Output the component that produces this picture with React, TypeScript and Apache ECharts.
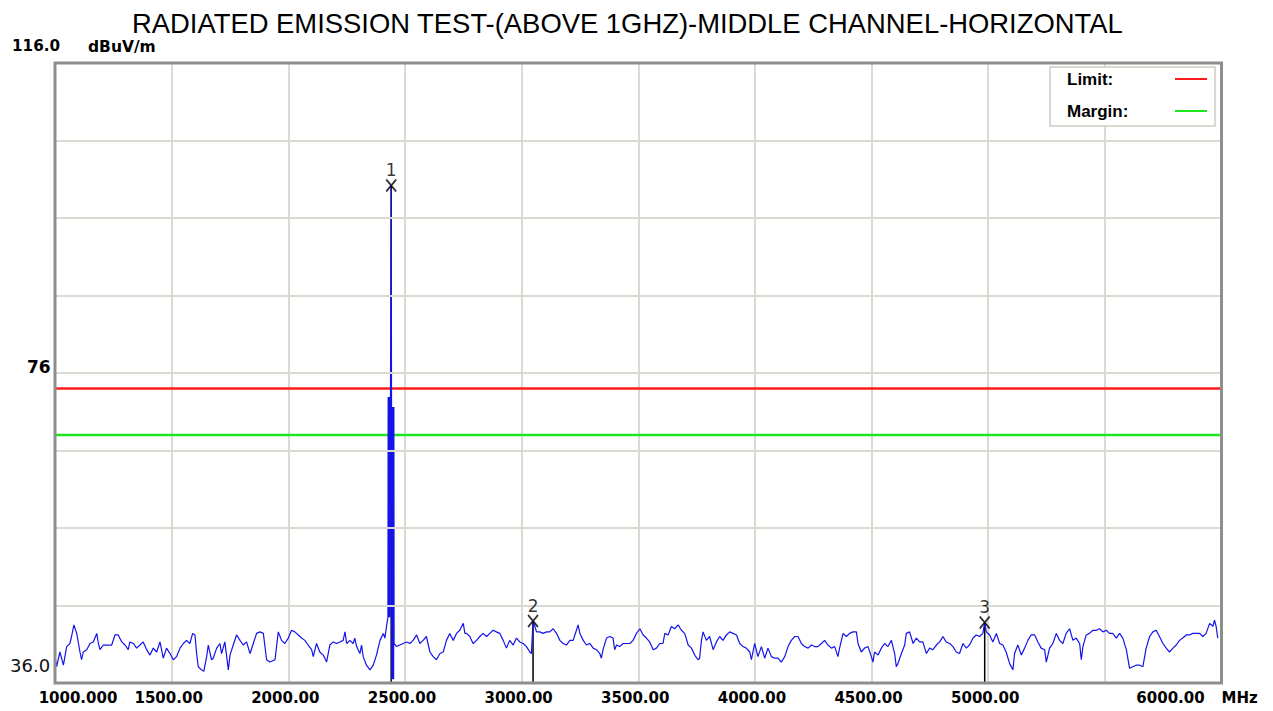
import React, { useEffect, useRef } from 'react';
import * as echarts from 'echarts';

const TITLE = 'RADIATED EMISSION TEST-(ABOVE 1GHZ)-MIDDLE CHANNEL-HORIZONTAL';
const X_UNIT = 'MHz';
const Y_UNIT = 'dBuV/m';

const xTickValues = [1000, 1500, 2000, 2500, 3000, 3500, 4000, 4500, 5000, 6000];
const xTickLabels = ['1000.000', '1500.00', '2000.00', '2500.00', '3000.00', '3500.00', '4000.00', '4500.00', '5000.00', '6000.00'];
const yTickValues = [36, 76, 116];
const yTickLabels = ['36.0', '76', '116.0'];
const yGridValues = [46, 56, 66, 76, 86, 96, 106];

const LIMIT_LEVEL = 74;
const MARGIN_LEVEL = 68;

const markerNames = ['1', '2', '3'];
const markerFreq = [2441, 3049, 4985];
const markerLevel = [100.2, 44.0, 43.8];

// measured trace: [frequency MHz, level dBuV/m]
const band1: [number, number][] = [
  [1000, 39.4], [1007, 38.1], [1021, 40.0], [1036, 38.3], [1050, 40.7], [1064, 41.1], [1071, 42.0], [1081, 43.5], [1093, 42.4],
  [1107, 40.0], [1114, 39.0], [1121, 40.0], [1136, 40.3], [1150, 41.1], [1164, 41.3], [1179, 42.4], [1186, 41.1], [1193, 40.3],
  [1207, 40.9], [1221, 40.9], [1243, 40.9], [1257, 42.2], [1271, 42.2], [1286, 41.3], [1300, 40.9], [1314, 40.3], [1321, 41.3],
  [1336, 41.1], [1350, 40.5], [1364, 40.9], [1378, 41.3], [1393, 40.3], [1407, 39.6], [1421, 40.5], [1436, 40.0], [1450, 41.3],
  [1464, 39.2], [1478, 40.5], [1493, 39.8], [1507, 39.0], [1521, 39.4], [1536, 40.5], [1550, 41.1], [1564, 41.5], [1578, 41.1],
  [1590, 42.4], [1600, 42.2], [1607, 39.8], [1614, 38.1], [1628, 37.7], [1638, 37.5], [1650, 39.4], [1657, 40.9], [1671, 39.0],
  [1678, 39.2], [1693, 40.5], [1707, 41.1], [1714, 39.8], [1728, 41.3], [1743, 37.7], [1750, 39.6], [1764, 40.9], [1778, 42.2],
  [1793, 41.5], [1807, 40.9], [1821, 41.3], [1836, 39.8], [1850, 41.1], [1864, 42.4], [1878, 42.6], [1893, 42.4], [1907, 39.0],
  [1921, 38.7], [1943, 39.0], [1957, 42.6], [1971, 41.5], [1985, 41.1], [2000, 41.8], [2014, 42.8], [2028, 42.6], [2043, 42.2],
  [2057, 41.8], [2071, 41.5], [2085, 40.9], [2100, 40.3], [2107, 39.4], [2121, 41.1], [2135, 40.0], [2150, 39.6], [2164, 38.7],
  [2178, 40.9], [2193, 41.3], [2207, 41.1], [2221, 41.3], [2235, 41.5], [2243, 42.6], [2250, 41.1], [2264, 41.5], [2278, 41.1],
  [2285, 41.8], [2293, 40.7], [2307, 39.8], [2314, 40.9], [2321, 39.4], [2335, 38.3], [2350, 37.7], [2364, 38.3], [2378, 39.6],
  [2393, 41.5], [2407, 42.4], [2414, 41.8], [2421, 43.3], [2427, 44.5],
];

const carrier: [number, number][] = [
  [2428, 72.9], [2429, 44.5], [2430, 72.9], [2431, 44.5], [2432, 72.9], [2433, 44.5], [2434, 72.9], [2435, 44.5],
  [2436, 72.9], [2437, 44.5], [2438, 72.9], [2439.5, 72.9], [2441, 100.2], [2442.5, 71.6], [2443.5, 36.5], [2444.5, 71.6],
  [2445.5, 36.5], [2446.5, 71.6], [2447.5, 36.5], [2448.5, 71.6], [2449.5, 36.5], [2450.5, 71.6], [2451.5, 36.5],
  [2452.5, 71.6],
];

const band2: [number, number][] = [
  [2453.5, 41.1], [2464, 40.7], [2478, 40.9], [2492, 41.1], [2507, 41.3], [2521, 41.1], [2535, 41.5], [2550, 42.2], [2564, 41.1],
  [2578, 41.5], [2592, 42.0], [2607, 40.0], [2621, 39.4], [2635, 39.0], [2650, 39.8], [2664, 40.0], [2678, 41.5], [2692, 42.4],
  [2707, 41.5], [2721, 42.4], [2735, 42.8], [2750, 43.7], [2757, 42.4], [2764, 42.4], [2778, 42.0], [2792, 41.1], [2807, 41.5],
  [2821, 42.0], [2835, 42.4], [2850, 42.0], [2864, 42.4], [2878, 42.8], [2892, 42.6], [2907, 42.4], [2921, 41.5], [2935, 40.5],
  [2949, 41.5], [2964, 40.9], [2978, 41.8], [2992, 41.3], [3007, 41.1], [3021, 40.7], [3035, 40.0], [3042, 39.8], [3049, 44.0],
  [3057, 43.3], [3064, 42.6], [3078, 42.6], [3092, 42.4], [3107, 42.6], [3121, 42.6], [3135, 43.0], [3150, 42.4], [3164, 41.5],
  [3178, 41.1], [3192, 40.9], [3207, 41.5], [3221, 41.5], [3235, 42.8], [3242, 43.5], [3250, 42.4], [3264, 41.5], [3278, 40.9],
  [3292, 41.1], [3307, 40.5], [3321, 40.3], [3335, 39.8], [3342, 39.2], [3349, 40.3], [3364, 41.8], [3378, 42.0], [3392, 41.8],
  [3399, 40.3], [3407, 40.9], [3421, 40.7], [3435, 41.1], [3449, 41.1], [3464, 41.1], [3478, 41.5], [3492, 42.4], [3507, 43.0],
  [3521, 42.2], [3535, 41.8], [3549, 41.3],
];

const band3: [number, number][] = [
  [3564, 40.3], [3578, 40.5], [3592, 41.1], [3606, 41.1], [3614, 42.4], [3628, 42.2], [3642, 43.3], [3656, 43.0], [3671, 43.5],
  [3685, 42.8], [3699, 42.4], [3714, 40.9], [3728, 40.5], [3742, 39.6], [3756, 39.0], [3763, 39.2], [3771, 41.5], [3778, 42.6],
  [3792, 41.5], [3806, 42.0], [3821, 40.3], [3835, 41.3], [3849, 42.0], [3863, 41.5], [3878, 42.2], [3892, 42.6], [3906, 42.4],
  [3921, 42.2], [3935, 41.1], [3949, 40.7], [3963, 40.5], [3978, 40.0], [3985, 39.0], [3999, 41.1], [4013, 39.4], [4028, 40.7],
  [4042, 39.2], [4056, 40.5], [4071, 39.4], [4085, 39.2], [4099, 39.2], [4113, 38.7], [4128, 39.4], [4142, 40.7], [4156, 41.5],
  [4171, 42.0], [4185, 42.0], [4199, 41.1], [4213, 40.7], [4228, 40.5], [4242, 40.9], [4256, 40.7], [4270, 40.7], [4285, 41.1],
  [4299, 41.5], [4313, 40.9], [4328, 40.5], [4342, 40.7], [4356, 39.4], [4363, 40.5], [4378, 42.4], [4392, 42.0], [4406, 42.4],
  [4420, 42.6], [4435, 42.6], [4442, 41.1], [4456, 40.0], [4470, 40.5], [4485, 40.7], [4499, 39.4], [4506, 38.7], [4513, 40.0],
  [4528, 39.6], [4542, 40.5], [4556, 41.1], [4570, 40.7], [4585, 41.5], [4599, 39.8], [4606, 38.1], [4613, 38.5], [4628, 39.8],
  [4642, 40.9], [4649, 42.4], [4663, 42.6], [4678, 41.1], [4692, 41.8], [4706, 41.3], [4720, 41.3], [4735, 39.8], [4749, 40.5],
  [4763, 40.3], [4778, 40.9], [4792, 41.3], [4806, 42.0], [4820, 41.3], [4835, 41.1], [4849, 40.7], [4863, 40.0], [4877, 39.8],
  [4892, 41.1], [4906, 40.5], [4920, 40.9],
];

const band4: [number, number][] = [
  [4935, 41.8], [4949, 42.2], [4963, 42.0], [4977, 42.4], [4985, 43.8], [4992, 42.6], [5006, 42.2], [5020, 41.3], [5035, 42.4],
  [5049, 41.1], [5063, 40.9], [5077, 40.0], [5092, 38.5], [5106, 37.7], [5113, 39.8], [5127, 40.9], [5142, 39.6], [5156, 40.5],
  [5170, 41.5], [5184, 42.2], [5199, 42.2], [5213, 41.3], [5227, 40.5], [5242, 40.3], [5249, 38.7], [5263, 40.5], [5277, 41.1],
  [5292, 42.4], [5306, 41.5], [5320, 41.1], [5334, 42.4], [5349, 43.0], [5363, 41.5], [5377, 41.8], [5392, 41.1], [5399, 39.0],
  [5406, 40.7], [5420, 42.2], [5434, 42.4], [5449, 42.8], [5463, 42.8], [5477, 43.0], [5492, 42.6], [5506, 42.8], [5520, 42.4],
  [5534, 42.4], [5549, 41.8], [5563, 42.4], [5577, 41.8], [5592, 40.3], [5606, 37.9], [5620, 38.1], [5634, 38.3], [5649, 38.3],
  [5663, 38.1], [5677, 40.5], [5692, 42.0], [5706, 42.6], [5720, 42.8], [5734, 42.0], [5749, 41.1], [5763, 40.5], [5777, 40.0],
  [5792, 40.5], [5806, 40.9], [5820, 41.5], [5834, 41.8], [5849, 42.2], [5863, 42.2], [5877, 42.4], [5891, 42.4], [5906, 42.4],
  [5920, 42.0], [5934, 42.4], [5949, 43.7], [5963, 43.3], [5970, 44.1], [5977, 43.3], [5984, 41.8],
];

const X_MIN = 1000;
const X_MAX = 6000;
const Y_MIN = 36;
const Y_MAX = 116;

export default function App() {
  const ref = useRef<HTMLDivElement>(null);

  useEffect(() => {
    if (!ref.current) return;
    const chart = echarts.init(ref.current, null, { renderer: 'svg' });
    const trace = [...band1, ...carrier, ...band2, ...band3, ...band4];

    const GRID = { left: 55, top: 63, right: 51.5, bottom: 28 };
    const plotW = 1273 - GRID.left - GRID.right;
    const plotH = 711 - GRID.top - GRID.bottom;

    const xFont = { fontFamily: 'DejaVu Sans', fontWeight: 'bold' as const, fontSize: 15, color: '#000' };

    const stemSeries = markerFreq.map((f, i) => ({
      type: 'line',
      name: 'stem' + i,
      data: [[f, markerLevel[i]], [f, Y_MIN]],
      symbol: 'none',
      lineStyle: { color: '#000', width: 1.5 },
      z: 3,
      silent: true,
    }));

    chart.setOption({
      animation: false,
      backgroundColor: '#fff',
      title: {
        text: TITLE,
        left: 132,
        top: 10,
        padding: 0,
        textStyle: { fontFamily: 'Liberation Sans', fontSize: 27.4, fontWeight: 'normal', color: '#000' },
      },
      legend: {
        data: ['Limit:', 'Margin:'],
        orient: 'vertical',
        right: 58,
        top: 67,
        align: 'right',
        icon: 'rect',
        itemWidth: 32,
        itemHeight: 2,
        itemGap: 12,
        padding: [2, 8, 5, 17],
        backgroundColor: '#fff',
        borderColor: '#cfcbc4',
        borderWidth: 1.5,
        selectedMode: false,
        formatter: (name: string) => '{t|' + name + '}',
        textStyle: {
          fontFamily: 'Liberation Sans',
          fontWeight: 'bold',
          fontSize: 17,
          color: '#000',
          rich: {
            t: { fontFamily: 'Liberation Sans', fontWeight: 'bold', fontSize: 17, color: '#000', width: 103, height: 20, align: 'left', lineHeight: 20 },
          },
        },
      },
      grid: { left: GRID.left, top: GRID.top, right: GRID.right, bottom: GRID.bottom, containLabel: false },
      xAxis: {
        type: 'value',
        min: X_MIN,
        max: X_MAX,
        interval: 500,
        axisLine: { show: false },
        axisTick: { show: false },
        splitLine: { show: true, lineStyle: { color: '#dcd8d2', width: 2 } },
        axisLabel: {
          customValues: xTickValues,
          margin: 7,
          formatter: (v: number) => {
            const i = xTickValues.indexOf(v);
            if (i < 0) return '';
            const key = i === 0 ? 'first' : i === xTickValues.length - 1 ? 'last' : 'mid';
            return '{' + key + '|' + xTickLabels[i] + '}';
          },
          rich: {
            first: { ...xFont, padding: [0, 0, 0, 46] },
            mid: { ...xFont, padding: [0, 6, 0, 0] },
            last: { ...xFont, padding: [0, 102, 0, 0] },
          },
        },
        name: X_UNIT,
        nameLocation: 'end',
        nameGap: 0,
        nameTextStyle: { ...xFont, align: 'left', verticalAlign: 'top', padding: [7, 0, 0, 0] },
      },
      yAxis: {
        type: 'value',
        min: Y_MIN,
        max: Y_MAX,
        axisLine: { show: false },
        axisTick: { show: false },
        splitLine: { show: false },
        axisLabel: {
          customValues: yTickValues,
          align: 'left',
          margin: 45,
          formatter: (v: number) => {
            const i = yTickValues.indexOf(v);
            if (i < 0) return '';
            return '{y' + i + '|' + yTickLabels[i] + '}';
          },
          rich: {
            y0: { fontFamily: 'DejaVu Sans', fontSize: 18, color: '#111', padding: [0, 0, 35, 0] },
            y1: { fontFamily: 'DejaVu Sans', fontWeight: 'bold', fontSize: 17, color: '#000', padding: [0, 0, 13, 17] },
            y2: { fontFamily: 'DejaVu Sans', fontWeight: 'bold', fontSize: 15.2, color: '#000', padding: [0, 0, 34, 2] },
          },
        },
        name: Y_UNIT,
        nameLocation: 'end',
        nameGap: 8,
        nameTextStyle: { fontFamily: 'DejaVu Sans', fontWeight: 'bold', fontSize: 15.5, color: '#000', align: 'left', padding: [0, 0, 0, 33] },
      },
      graphic: [
        {
          type: 'rect',
          z: 100,
          silent: true,
          shape: { x: GRID.left, y: GRID.top, width: plotW, height: plotH },
          style: { fill: 'none', stroke: '#8e8e8e', lineWidth: 3 },
        },
      ],
      series: [
        {
          type: 'line',
          name: 'Limit:',
          data: [[X_MIN, LIMIT_LEVEL], [X_MAX, LIMIT_LEVEL]],
          symbol: 'none',
          color: '#ff1a1a',
          lineStyle: { color: '#ff1a1a', width: 2.5 },
          z: 2,
          silent: true,
          markLine: {
            silent: true,
            symbol: ['none', 'none'],
            label: { show: false },
            lineStyle: { color: '#dcd8d2', width: 2, type: 'solid' },
            emphasis: { disabled: true },
            data: yGridValues.map((v) => ({ yAxis: v })),
          },
        },
        {
          type: 'line',
          name: 'Margin:',
          data: [[X_MIN, MARGIN_LEVEL], [X_MAX, MARGIN_LEVEL]],
          symbol: 'none',
          color: '#1ee61e',
          lineStyle: { color: '#1ee61e', width: 2.5 },
          z: 2,
          silent: true,
        },
        ...stemSeries,
        {
          type: 'line',
          name: 'trace',
          data: trace,
          symbol: 'none',
          lineStyle: { color: '#1414ea', width: 1.2 },
          z: 4,
          silent: true,
        },
        {
          type: 'scatter',
          name: 'markers',
          data: markerFreq.map((f, i) => ({ value: [f, markerLevel[i]], name: markerNames[i] })),
          symbol: 'path://M0,0L10,12M10,0L0,12',
          symbolSize: [10, 12],
          itemStyle: { color: 'rgba(0,0,0,0)', borderColor: '#000', borderWidth: 1.8 },
          label: {
            show: true,
            position: 'top',
            distance: 0,
            formatter: '{b}',
            fontFamily: 'DejaVu Sans',
            fontSize: 17,
            color: '#000',
          },
          z: 6,
          silent: true,
        },
      ],
    });

    return () => chart.dispose();
  }, []);

  return (
    <div
      ref={ref}
      style={{ position: 'fixed', left: 0, top: 0, width: 1273, height: 711, background: '#fff' }}
    />
  );
}
